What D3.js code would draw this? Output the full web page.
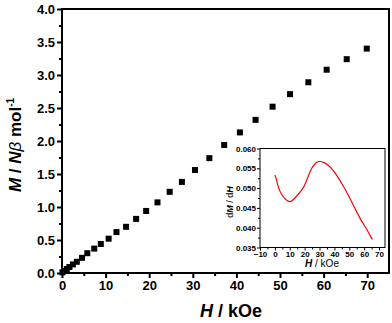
<!DOCTYPE html>
<html>
<head>
<meta charset="utf-8">
<script src="https://cdn.jsdelivr.net/npm/d3@7"></script>
<style>
  body { margin: 0; background: #fff; }
  svg { font-family: Arial, "Liberation Sans", sans-serif; display: block; }
</style>
</head>
<body>
<div id="chart"></div>
<script>
// 主图数据: M vs H
const fieldH = [0.1, 0.6, 1.1, 1.7, 2.5, 3.4, 4.6, 5.8, 7.4, 8.9, 10.7, 12.5, 14.7, 17.0, 19.3, 21.9, 24.7, 27.5, 30.5, 33.8, 37.2, 40.8, 44.4, 48.3, 52.3, 56.5, 60.7, 65.3, 69.9];
const magM = [0.01, 0.03, 0.06, 0.09, 0.13, 0.17, 0.23, 0.30, 0.37, 0.44, 0.52, 0.62, 0.70, 0.82, 0.94, 1.07, 1.23, 1.38, 1.56, 1.74, 1.94, 2.13, 2.32, 2.52, 2.71, 2.89, 3.08, 3.24, 3.40];
const mainXTicks = [0, 10, 20, 30, 40, 50, 60, 70];
const mainYTicks = [0.0, 0.5, 1.0, 1.5, 2.0, 2.5, 3.0, 3.5, 4.0];

// 插图数据: dM/dH vs H
const insetH = [0, 1.2, 2.3, 4.6, 6.8, 9.5, 11.3, 14.7, 18, 20.2, 22.4, 24.7, 28.1, 30, 33, 36, 39, 42, 45, 48, 51, 54, 57, 60, 63, 65.5];
const insetDM = [0.0533, 0.0521, 0.0500, 0.0483, 0.0472, 0.0465, 0.0466, 0.0480, 0.0494, 0.0508, 0.0530, 0.0552, 0.0566, 0.0568, 0.0565, 0.0558, 0.0546, 0.0530, 0.0511, 0.0492, 0.0470, 0.0447, 0.0425, 0.0406, 0.0388, 0.0370];
const insetXTicks = [-10, 0, 10, 20, 30, 40, 50, 60, 70];
const insetYTicks = [0.035, 0.040, 0.045, 0.050, 0.055, 0.060];

const width = 392, height = 323;
const svg = d3.select("#chart").append("svg")
    .attr("width", width)
    .attr("height", height);

// 主图
const x = d3.scaleLinear().domain([0, 75]).range([62, 389]);
const y = d3.scaleLinear().domain([0, 4]).range([273, 9]);

// 刻度
const xAxis = d3.axisBottom(x).tickValues(mainXTicks).tickSize(5).tickPadding(3).tickFormat(d3.format("d"));
const xMinor = d3.axisBottom(x).tickValues(d3.range(5, 75, 10)).tickSize(3).tickFormat("");
const yAxis = d3.axisLeft(y).tickValues(mainYTicks).tickSize(5).tickPadding(2).tickFormat(d3.format(".1f"));
const yMinor = d3.axisLeft(y).tickValues(d3.range(0.25, 4, 0.5)).tickSize(3).tickFormat("");

function styleAxis(g, fs) {
    g.select(".domain").remove();
    g.selectAll("line").attr("stroke", "#000").attr("stroke-width", 2);
    g.selectAll("text").attr("fill", "#000").style("font-size", fs + "px").style("font-weight", "bold");
}

svg.append("g").attr("transform", "translate(0,273)").call(xAxis).call(g => styleAxis(g, 13));
svg.append("g").attr("transform", "translate(0,273)").call(xMinor).call(g => styleAxis(g, 13));
svg.append("g").attr("transform", "translate(62,0)").call(yAxis).call(g => styleAxis(g, 13));
svg.append("g").attr("transform", "translate(62,0)").call(yMinor).call(g => styleAxis(g, 13));

// 边框
svg.append("rect")
    .attr("x", x(0)).attr("y", y(4))
    .attr("width", x(75) - x(0)).attr("height", y(0) - y(4))
    .attr("fill", "none").attr("stroke", "#000").attr("stroke-width", 2);

// 数据点
const pts = fieldH.map((h, i) => ({ h: h, m: magM[i] }));
svg.append("g").selectAll("rect")
    .data(pts)
    .enter()
    .append("rect")
    .attr("x", d => x(d.h) - 3)
    .attr("y", d => y(d.m) - 3)
    .attr("width", 6)
    .attr("height", 6)
    .attr("fill", "#000");

// 轴标题
const xl = svg.append("text")
    .attr("x", 231).attr("y", 317)
    .attr("text-anchor", "middle")
    .style("font-size", "18px").style("font-weight", "bold");
xl.append("tspan").style("font-style", "italic").text("H");
xl.append("tspan").text(" / kOe");

const yl = svg.append("text")
    .attr("transform", "translate(21,145) rotate(-90)")
    .attr("text-anchor", "middle")
    .style("font-size", "17px").style("font-weight", "bold");
yl.append("tspan").style("font-style", "italic").text("M");
yl.append("tspan").text(" / ");
yl.append("tspan").style("font-style", "italic").text("N");
yl.append("tspan").style("font-style", "italic").style("font-weight", "normal").text("β");
yl.append("tspan").text(" mol");
yl.append("tspan").attr("dy", -7).style("font-size", "10px").text("-1");

// 插图
const ix = d3.scaleLinear().domain([-10, 74]).range([260, 385]);
const iy = d3.scaleLinear().domain([0.035, 0.060]).range([247.5, 148.5]);

const inset = svg.append("g");
inset.append("rect")
    .attr("x", ix(-10)).attr("y", iy(0.060))
    .attr("width", ix(74) - ix(-10)).attr("height", iy(0.035) - iy(0.060))
    .attr("fill", "#fff").attr("stroke", "#000").attr("stroke-width", 1);

function styleInset(g) {
    g.select(".domain").remove();
    g.selectAll("line").attr("stroke", "#000").attr("stroke-width", 1);
    g.selectAll("text").attr("fill", "#000").style("font-size", "8px").style("font-weight", "bold");
}

inset.append("g").attr("transform", "translate(0,247.5)")
    .call(d3.axisBottom(ix).tickValues(insetXTicks).tickSize(3).tickPadding(1).tickFormat(d3.format("d")))
    .call(styleInset);
inset.append("g").attr("transform", "translate(0,247.5)")
    .call(d3.axisBottom(ix).tickValues(d3.range(-5, 74, 10)).tickSize(2).tickFormat(""))
    .call(styleInset);
inset.append("g").attr("transform", "translate(260,0)")
    .call(d3.axisLeft(iy).tickValues(insetYTicks).tickSize(3).tickPadding(1).tickFormat(d3.format(".3f")))
    .call(styleInset);
inset.append("g").attr("transform", "translate(260,0)")
    .call(d3.axisLeft(iy).tickValues(d3.range(0.0375, 0.060, 0.005)).tickSize(2).tickFormat(""))
    .call(styleInset);

const curve = insetH.map((h, i) => [h, insetDM[i]]);
inset.append("path")
    .datum(curve)
    .attr("fill", "none")
    .attr("stroke", "#ff0000")
    .attr("stroke-width", 1.2)
    .attr("d", d3.line().x(d => ix(d[0])).y(d => iy(d[1])).curve(d3.curveBasis));

const ixl = inset.append("text")
    .attr("x", 322).attr("y", 267)
    .attr("text-anchor", "middle")
    .style("font-size", "10px");
ixl.append("tspan").style("font-style", "italic").style("font-weight", "bold").text("H");
ixl.append("tspan").text(" / kOe");

const iyl = inset.append("text")
    .attr("transform", "translate(233,202) rotate(-90)")
    .attr("text-anchor", "middle")
    .style("font-size", "9px");
iyl.append("tspan").text("d");
iyl.append("tspan").style("font-style", "italic").style("font-weight", "bold").text("M");
iyl.append("tspan").text(" / d");
iyl.append("tspan").style("font-style", "italic").style("font-weight", "bold").text("H");
</script>
</body>
</html>
